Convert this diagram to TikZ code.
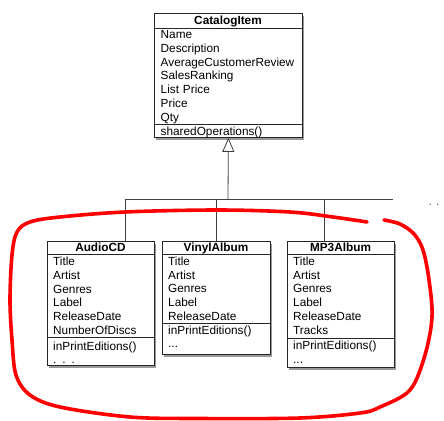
\documentclass[tikz,border=0pt]{standalone}
\usepackage{fontspec}
\setmainfont{Liberation Sans}
\usetikzlibrary{shadows,arrows.meta}
\newcommand\umlfont{\fontsize{11.8}{13.8}\selectfont}
\tikzset{
  umlbox/.style={draw=black!85, line width=0.8pt, fill=white, inner sep=0pt, anchor=north west,
    drop shadow={shadow xshift=1.5pt, shadow yshift=-2.5pt, opacity=0.4, fill=black}},
  classname/.style={font=\umlfont\bfseries, anchor=base, inner sep=0pt},
  members/.style={anchor=north west, inner sep=0pt, align=left, font=\umlfont},
  divider/.style={draw=black!85, line width=0.8pt},
  conn/.style={draw=black!75, line width=0.8pt},
  redmark/.style={draw=red, line width=3.6pt, line cap=round, line join=round},
}
\begin{document}
\begin{tikzpicture}[x=1pt,y=-1pt]
\useasboundingbox (0,0) rectangle (444,420);

% ---------- CatalogItem ----------
\node[umlbox, minimum width=148pt, minimum height=124pt] (cat) at (154,13) {};
\node[classname] (catname) at (228,25) {CatalogItem};
\draw[divider] (cat.west |- 0,28.3) -- (cat.east |- 0,28.3);
\node[members, text width=140pt] (catattr) at (160.5,28.6)
  {\strut Name\\Description\\AverageCustomerReview\\SalesRanking\\List Price\\Price\\Qty};
\draw[divider] (cat.west |- 0,124) -- (cat.east |- 0,124);
\node[members, text width=140pt] (catops) at (160.5,125.3) {\strut sharedOperations()};

% ---------- AudioCD ----------
\node[umlbox, minimum width=107pt, minimum height=124pt] (audio) at (47,241) {};
\node[classname] (audioname) at (100.5,251.6) {AudioCD};
\draw[divider] (audio.west |- 0,254) -- (audio.east |- 0,254);
\node[members, text width=100pt] (audioattr) at (53,255.6)
  {\strut Title\\Artist\\Genres\\Label\\ReleaseDate\\NumberOfDiscs};
\draw[divider] (audio.west |- 0,337) -- (audio.east |- 0,337);
\node[members, text width=100pt] (audioops) at (53,340.2) {\strut inPrintEditions()\\. . .};

% ---------- VinylAlbum ----------
\node[umlbox, minimum width=108pt, minimum height=113pt] (vinyl) at (162,241) {};
\node[classname] (vinylname) at (216,251.6) {VinylAlbum};
\draw[divider] (vinyl.west |- 0,254) -- (vinyl.east |- 0,254);
\node[members, text width=100pt] (vinylattr) at (168,255.4)
  {\strut Title\\Artist\\Genres\\Label\\ReleaseDate};
\draw[divider] (vinyl.west |- 0,323) -- (vinyl.east |- 0,323);
\node[members, text width=100pt] (vinylops) at (168,324.3) {\strut inPrintEditions()\\...};

% ---------- MP3Album ----------
\node[umlbox, minimum width=107pt, minimum height=126pt] (mp3) at (287,241) {};
\node[classname] (mp3name) at (340.5,251.2) {MP3Album};
\draw[divider] (mp3.west |- 0,254) -- (mp3.east |- 0,254);
\node[members, text width=100pt] (mp3attr) at (293,255.4)
  {\strut Title\\Artist\\Genres\\Label\\ReleaseDate\\Tracks};
\draw[divider] (mp3.west |- 0,338) -- (mp3.east |- 0,338);
\node[members, text width=100pt] (mp3ops) at (293,339.8) {\strut inPrintEditions()\\...};

% ---------- generalization ----------
\coordinate (bus) at (228,199);
\coordinate (busL) at (125,199);
\coordinate (busV) at (216,199);
\coordinate (busM) at (324,199);
\coordinate (busR) at (393,199);
\draw[conn, -{Triangle[open, length=14pt, width=12pt]}] (bus) -- (cat.south);
\draw[conn] (busL) -- (busR);
\draw[conn] (busL) -- (busL |- audio.north);
\draw[conn] (busV) -- (busV |- vinyl.north);
\draw[conn] (busM) -- (busM |- mp3.north);
\node[font=\umlfont, text=black!70, anchor=base, inner sep=0pt] (more) at (434,205) {. .};

% ---------- red hand-drawn outline ----------
\draw[redmark] plot[smooth, tension=0.55] coordinates {
 (384,220) (400,224) (414,234) (423,250) (429,280) (432,317) (425,355) (410,390)
 (380,407) (360,413) (300,418) (200,418.5) (130,417) (60,407) (30,395) (16,375)
 (12,340) (10,300) (12,255) (17,232) (30,222) (60,217) (125,212) (217,210)
 (290,212) (333,217) (367,222)};
\end{tikzpicture}
\end{document}
